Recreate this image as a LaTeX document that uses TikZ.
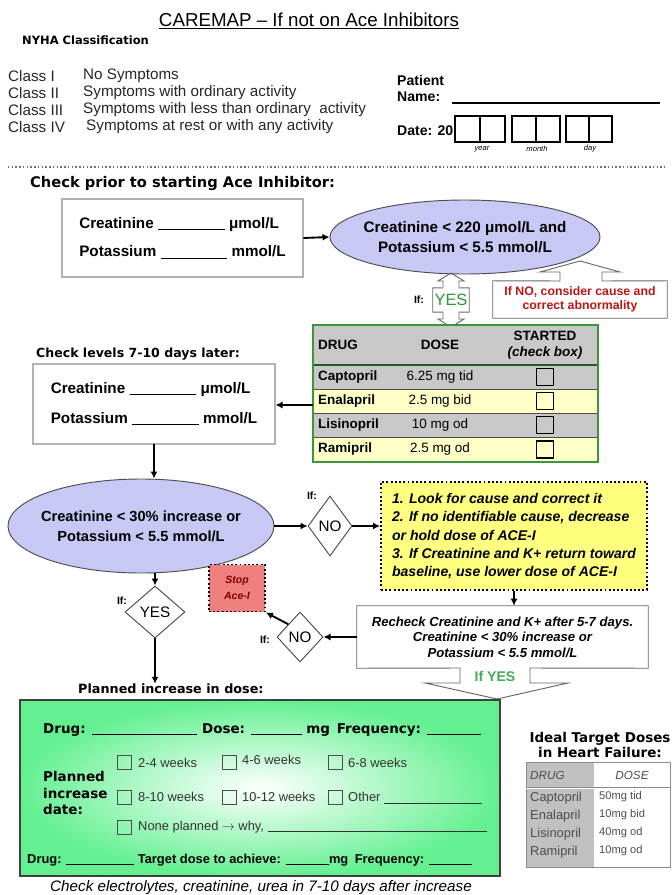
\documentclass[tikz,border=0pt]{standalone}
\usepackage{fontspec}
\setmainfont{Liberation Sans}
\newfontfamily\heavyfont{DejaVu Sans}
\usetikzlibrary{shapes.geometric,arrows.meta}

\definecolor{ellblue}{RGB}{200,200,245}
\definecolor{yesgreen}{RGB}{40,150,60}
\definecolor{nored}{RGB}{190,20,20}
\definecolor{tblgreen}{RGB}{60,150,60}
\definecolor{tblgray}{RGB}{200,200,200}
\definecolor{tblyel}{RGB}{255,255,200}
\definecolor{noteyel}{RGB}{255,255,128}
\definecolor{stoppink}{RGB}{240,128,128}
\definecolor{stopred}{RGB}{130,0,0}
\definecolor{plangreen}{RGB}{100,240,145}
\definecolor{idgray}{RGB}{192,192,192}

\newcommand{\fsz}[2]{\fontsize{#1}{#2}\selectfont}
\newcommand{\blank}[1]{\rule[-1.5pt]{#1}{0.8pt}}

\begin{document}
\begin{tikzpicture}[x=0.03cm, y=-0.03cm,
    txt/.style={inner sep=0pt, anchor=west},
    heading/.style={txt, font=\heavyfont\bfseries\fsz{#1}{14}},
    cls/.style={txt, font=\fsz{13}{15}, text=black!85},
    lbl/.style={txt, font=\bfseries\fsz{12}{14}},
    tinylbl/.style={inner sep=0pt, font=\itshape\fsz{6.5}{8}},
    valbox/.style={draw=black!80, double=black!30, double distance=0.9pt, line width=0.8pt,
      align=left, font=\bfseries\fsz{13}{15.6}},
    ellbox/.style={ellipse, draw=black!70, line width=0.8pt, fill=ellblue},
    elltxt/.style={align=center, inner sep=0pt, font=\bfseries\fsz{#1}{17}},
    arr/.style={-{Latex[length=6pt,width=6pt]}, line width=1.6pt},
    callout/.style={draw=black!60, line width=0.8pt},
    iflbl/.style={inner sep=0pt, font=\bfseries\fsz{9}{10}},
    dia/.style={diamond, draw=black!70, line width=0.8pt, fill=white, inner sep=1pt, font=\fsz{13}{15}},
    chk/.style={draw, line width=1.3pt, minimum size=0.5cm, inner sep=0pt},
    cell/.style={inner sep=0pt, font=\bfseries\fsz{11.5}{14}},
    dose/.style={inner sep=0pt, font=\fsz{11.5}{14}},
    notebox/.style={draw, dotted, line width=1.6pt, fill=noteyel, align=left, inner sep=0pt,
      font=\bfseries\itshape\fsz{12}{15.4}},
    stopbox/.style={draw, dotted, line width=1.6pt, fill=stoppink, align=center, inner sep=0pt,
      text=stopred, font=\bfseries\itshape\fsz{9}{14}},
    plantxt/.style={txt, font=\heavyfont\bfseries\fsz{11.5}{13.7}},
    pchk/.style={draw=black!70, line width=0.8pt, minimum size=0.42cm, inner sep=0pt},
    popt/.style={txt, font=\fsz{11}{13}, text=black!80},
    idtxt/.style={txt, font=\fsz{#1}{12}, text=black!70}]

  \useasboundingbox (0,0) rectangle (672,895);

  % header
  \node[font=\fsz{16}{19}] (title) at (309,21) {\underline{CAREMAP – If not on Ace Inhibitors}};
  \node[heading=9.8] (nyha) at (22,40) {NYHA Classification};
  \node[cls] (cl1) at (8,76) {Class I};
  \node[cls] (cl2) at (8,93) {Class II};
  \node[cls] (cl3) at (8,110) {Class III};
  \node[cls] (cl4) at (8,127) {Class IV};
  \node[cls] (sy1) at (83,76) {No Symptoms};
  \node[cls] (sy2) at (83,93) {Symptoms with ordinary activity};
  \node[cls] (sy3) at (83,110) {Symptoms with less than ordinary\ \ activity};
  \node[cls] (sy4) at (86,127) {Symptoms at rest or with any activity};

  % patient and date
  \node[lbl] (pat) at (397,80) {Patient};
  \node[lbl] (nam) at (397,97) {Name:};
  \draw[line width=0.9pt] (452,103) -- (660,103);
  \node[lbl] (dat) at (397,131) {Date: 20};
  \draw[line width=0.9pt] (455,116) rectangle (505,142) (480,116) -- (480,142)
    (512,116) rectangle (560,142) (536,116) -- (536,142)
    (566,116) rectangle (612,142) (589,116) -- (589,142);
  \node[tinylbl] (yr) at (482,149) {year};
  \node[tinylbl] (mo) at (537,149) {month};
  \node[tinylbl] (dy) at (590,149) {day};

  \draw[dotted, line width=1.2pt, black!55] (8,167) -- (665,167);

  % first check
  \node[heading=12.5] (pre) at (30,184) {Check prior to starting Ace Inhibitor:};
  \node[valbox, minimum width=7.23cm, minimum height=2.34cm] (lab1) at (182.5,238)
    {Creatinine \blank{57pt} μmol/L\\[8.4pt]Potassium \blank{57pt} mmol/L};
  \node[ellbox, minimum width=8.1cm, minimum height=2.22cm,
    label={[elltxt=13]center:{Creatinine < 220 μmol/L and\\Potassium < 5.5 mmol/L}}] (ell1) at (465,237) {};
  \draw[arr] (lab1.east) -- (ell1.west);

  % yes / no callouts
  \node[font=\fsz{14}{16}, text=yesgreen, minimum width=1.08cm, minimum height=0.72cm, inner sep=0pt] (yes1) at (451,300) {YES};
  \draw[callout] (yes1.north west) -- (443,288) -- (443,281) -- (438,281) -- (451,273) -- (464,281) -- (459,281)
    -- (459,288) -- (yes1.north east) -- (yes1.south east) -- (459,312) -- (459,319) -- (464,319) -- (451,327)
    -- (438,319) -- (443,319) -- (443,312) -- (yes1.south west) -- cycle;
  \node[iflbl] (if1) at (419,300) {If:};
  \node[align=center, text=nored, font=\bfseries\fsz{10.5}{12}, minimum width=5.22cm, minimum height=1.11cm,
    inner sep=0pt] (nonote) at (580,299.5) {If NO, consider cause and\\correct abnormality};
  \draw[callout] (nonote.north west) -- (560,281) -- (560,272) -- (540,272) -- (580,261) -- (620,272)
    -- (602,272) -- (602,281) -- (nonote.north east) -- (nonote.south east) -- (nonote.south west) -- cycle;

  % drug table
  \fill[tblgray] (313,325) rectangle (598,389);
  \fill[tblyel] (313,389) rectangle (598,413);
  \fill[tblgray] (313,413) rectangle (598,437);
  \fill[tblyel] (313,437) rectangle (598,462);
  \draw[black!70, line width=0.8pt] (313,389) -- (598,389) (313,413) -- (598,413) (313,437) -- (598,437);
  \draw[tblgreen!60!black, line width=1.4pt] (313,365) -- (598,365);
  \node[draw=tblgreen, line width=1.2pt, minimum width=8.55cm, minimum height=4.11cm, inner sep=0pt] (tbl) at (455.5,393.5) {};
  \node[cell, anchor=west] (hdrug) at (318,345) {DRUG};
  \node[cell] (hdose) at (440,345) {DOSE};
  \node[cell, align=center] (hstart) at (545,345) {STARTED\\\textit{(check box)}};
  \node[cell, anchor=west] (d1) at (318,377) {Captopril};
  \node[dose] (o1) at (440,377) {6.25 mg tid};
  \node[chk] (k1) at (545,377) {};
  \node[cell, anchor=west] (d2) at (318,401) {Enalapril};
  \node[dose] (o2) at (440,401) {2.5 mg bid};
  \node[chk] (k2) at (545,401) {};
  \node[cell, anchor=west] (d3) at (318,425) {Lisinopril};
  \node[dose] (o3) at (440,425) {10 mg od};
  \node[chk] (k3) at (545,425) {};
  \node[cell, anchor=west] (d4) at (318,449.5) {Ramipril};
  \node[dose] (o4) at (440,449.5) {2.5 mg od};
  \node[chk] (k4) at (545,449.5) {};

  % second check
  \node[heading=10.7] (later) at (36,354) {Check levels 7-10 days later:};
  \node[valbox, minimum width=7.26cm, minimum height=2.4cm] (lab2) at (154,404)
    {Creatinine \blank{57pt} μmol/L\\[10pt]Potassium \blank{57pt} mmol/L};
  \coordinate (tblin) at (313,405);
  \draw[arr] (tblin) -- (tblin -| lab2.east);
  \node[ellbox, minimum width=7.98cm, minimum height=2.82cm,
    label={[elltxt=12.5]center:{Creatinine < 30\% increase or\\Potassium < 5.5 mmol/L}}] (ell2) at (141,526) {};
  \draw[arr] (lab2.south) -- (lab2.south |- ell2.north);

  % no branch
  \node[dia, minimum width=1.32cm, minimum height=1.8cm] (no1) at (330,526) {NO};
  \node[iflbl] (if2) at (312,496) {If:};
  \draw[arr] (ell2.east) -- (no1.west);
  \node[notebox, minimum width=7.98cm, minimum height=3.24cm] (note) at (514,536)
    {1. Look for cause and correct it\\2. If no identifiable cause, decrease\\or hold dose of ACE-I\\3. If Creatinine and K+ return toward\\baseline, use lower dose of ACE-I};
  \draw[arr] (no1.east) -- (no1.east -| note.west);
  \node[align=center, font=\bfseries\itshape\fsz{11.2}{13.2}, minimum width=8.73cm, minimum height=1.86cm,
    inner sep=0pt] (recheck) at (502.5,637) {Recheck Creatinine and K+ after 5-7 days.\\Creatinine < 30\% increase or\\Potassium < 5.5 mmol/L};
  \draw[callout] (recheck.north west) -- (recheck.north east) -- (recheck.south east) -- (530,668) -- (530,683)
    -- (568,683) -- (497,699) -- (425,683) -- (460,683) -- (460,668) -- (recheck.south west) -- cycle;
  \node[font=\bfseries\fsz{12}{14}, text=yesgreen!85] (ifyes) at (495,676) {If YES};
  \draw[arr] (note.south) -- (note.south |- recheck.north);
  \node[dia, minimum width=1.38cm, minimum height=1.5cm] (no2) at (300,637) {NO};
  \node[iflbl] (if3) at (265,640) {If:};
  \draw[arr] (recheck.west) -- (no2.east);
  \node[stopbox, minimum width=1.68cm, minimum height=1.41cm] (stop) at (237,588) {Stop\\Ace-I};
  \draw[arr] (no2.north west) -- (stop.south east);

  % yes branch
  \node[dia, minimum width=1.8cm, minimum height=1.56cm] (yes2) at (155,612) {YES};
  \node[iflbl] (if4) at (122,601) {If:};
  \draw[arr] (yes2.north |- ell2.south) -- (yes2.north);
  \node[heading=10.9] (plan) at (78,689) {Planned increase in dose:};
  \draw[arr] (yes2.south) -- (yes2.south |- plan.north);

  % planned increase box
  \node[draw=black!75, line width=1.4pt, shading=radial, inner color=white, outer color=plangreen,
    minimum width=14.4cm, minimum height=5.28cm] (planbox) at (260,788) {};
  \node[plantxt] (pl1) at (43,730) {Drug: \blank{90pt} Dose: \blank{43pt} mg\enspace Frequency: \blank{46pt}};
  \node[plantxt, align=left] (pldate) at (43,793) {Planned\\increase\\date:};
  \node[pchk] (b1) at (124,762) {};
  \node[popt] (t1) at (138,763) {2-4 weeks};
  \node[pchk] (b2) at (229,762) {};
  \node[popt] (t2) at (242,760) {4-6 weeks};
  \node[pchk] (b3) at (335,762) {};
  \node[popt] (t3) at (348,763) {6-8 weeks};
  \node[pchk] (b4) at (124,797) {};
  \node[popt] (t4) at (138,797) {8-10 weeks};
  \node[pchk] (b5) at (229,797) {};
  \node[popt] (t5) at (242,797) {10-12 weeks};
  \node[pchk] (b6) at (335,797) {};
  \node[popt] (t6) at (348,798) {Other \blank{84pt}};
  \node[pchk] (b7) at (124,827) {};
  \node[popt] (t7) at (138,827) {None planned $\rightarrow$ why, \blank{187pt}};
  \node[txt, font=\bfseries\fsz{11}{12}] (pl2) at (27,860)
    {Drug: \blank{58pt} Target dose to achieve: \blank{37pt}mg\enspace Frequency: \blank{37pt}};
  \node[font=\itshape\fsz{13}{15}] (cap) at (261,888) {Check electrolytes, creatinine, urea in 7-10 days after increase};

  % ideal doses
  \node[align=center, inner sep=0pt, font=\heavyfont\bfseries\fsz{11.5}{13}] (ideal) at (600,745) {Ideal Target Doses\\in Heart Failure:};
  \fill[idgray] (526,762) rectangle (594,867);
  \draw[black!45, line width=0.8pt] (526,762) rectangle (670,867);
  \draw[black!45, line width=0.8pt, double=white, double distance=0.6pt] (526,788) -- (670,788);
  \node[idtxt=10, font=\itshape\fsz{10}{12}] (idh1) at (530,775) {DRUG};
  \node[inner sep=0pt, font=\itshape\fsz{10}{12}, text=black!70] (idh2) at (632,775) {DOSE};
  \node[idtxt=11] (id1) at (530,798) {Captopril};
  \node[idtxt=9.5] (iv1) at (599,797) {50mg tid};
  \node[idtxt=11] (id2) at (530,816) {Enalapril};
  \node[idtxt=9.5] (iv2) at (599,815) {10mg bid};
  \node[idtxt=11] (id3) at (530,834) {Lisinopril};
  \node[idtxt=9.5] (iv3) at (599,833) {40mg od};
  \node[idtxt=11] (id4) at (530,852) {Ramipril};
  \node[idtxt=9.5] (iv4) at (599,851) {10mg od};
\end{tikzpicture}
\end{document}
